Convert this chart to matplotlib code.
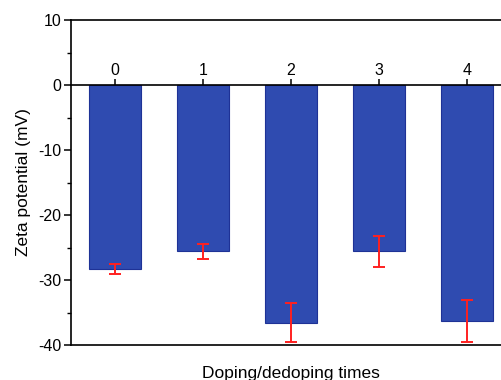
import matplotlib.pyplot as plt
from matplotlib.ticker import MultipleLocator

plt.rcParams['font.family'] = ['Liberation Sans', 'DejaVu Sans']
plt.rcParams['axes.unicode_minus'] = False

times = ["0", "1", "2", "3", "4"]
zeta = [-28.3, -25.6, -36.6, -25.6, -36.3]
zeta_err = [0.8, 1.2, 3.0, 2.4, 3.3]

fig = plt.figure(figsize=(5.02, 3.80), dpi=100)
ax = fig.add_axes([71 / 502, 1 - 345 / 380, 440 / 502, 325 / 380])

x = range(len(times))
ax.bar(x, zeta, width=0.6, color="#2f4bb0", edgecolor="#1e3296", linewidth=0.8, zorder=2)
ax.errorbar(x, zeta, yerr=zeta_err, fmt="none", ecolor="#ff2020",
            elinewidth=1.4, capsize=4.5, capthick=1.4, zorder=3)

ax.set_xlim(-0.5, 4.5)
ax.set_ylim(-40, 10)

# x axis sits on the zero line, labels above it
ax.spines["top"].set_position(("data", 0))
ax.xaxis.tick_top()
ax.set_xticks(list(x))
ax.set_xticklabels(times)
ax.axhline(10, color="black", linewidth=1.2, clip_on=False, zorder=4)

ax.yaxis.set_major_locator(MultipleLocator(10))
ax.yaxis.set_minor_locator(MultipleLocator(5))
ax.tick_params(axis="y", which="major", direction="out", length=5, width=1.1, labelsize=11.5, pad=2)
ax.tick_params(axis="y", which="minor", direction="out", length=3, width=1.0)
ax.tick_params(axis="x", which="major", direction="out", length=4, width=1.1, labelsize=11.5, pad=1)

for side in ["left", "bottom", "top", "right"]:
    ax.spines[side].set_linewidth(1.2)
ax.spines["top"].set_zorder(4)

ax.set_ylabel("Zeta potential (mV)", fontsize=12.5, labelpad=5)
ax.text(0.5, -0.065, "Doping/dedoping times", transform=ax.transAxes,
        ha="center", va="top", fontsize=12.5)

fig.savefig("out.png", dpi=100)
